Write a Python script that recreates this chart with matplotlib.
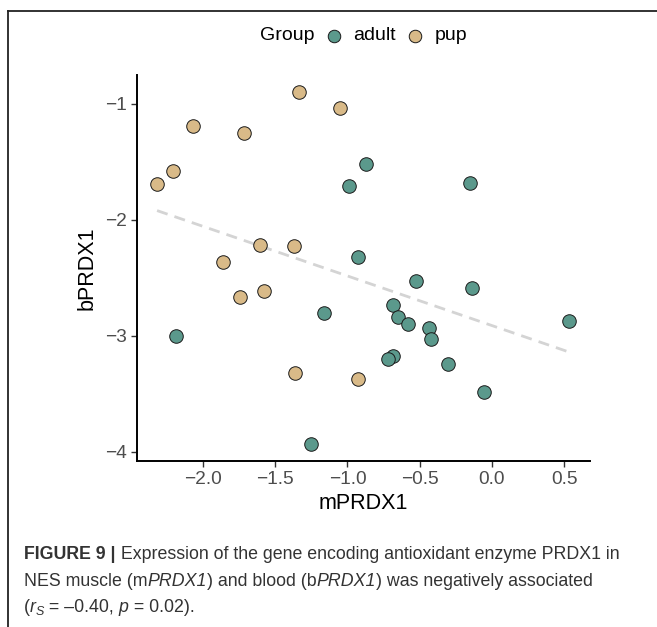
import numpy as np
import matplotlib
matplotlib.use("Agg")
import matplotlib.pyplot as plt
from matplotlib.lines import Line2D

plt.rcParams['font.family'] = ['Liberation Sans', 'DejaVu Sans']

# ---- data ----
adult_m = [-0.990, -0.870, -0.150, -0.930, -0.524, -0.136, -1.165, -0.681, -0.653,
           -0.579, -0.434, -0.418, 0.537, -0.685, -0.722, -0.300, -0.051, -1.251, -2.185]
adult_b = [-1.707, -1.517, -1.681, -2.316, -2.529, -2.586, -2.802, -2.730, -2.839,
           -2.894, -2.928, -3.023, -2.874, -3.175, -3.195, -3.241, -3.480, -3.931, -3.000]
pup_m = [-2.318, -2.208, -2.069, -1.714, -1.338, -1.048, -1.606, -1.370, -1.860,
         -1.744, -1.578, -1.363, -0.930]
pup_b = [-1.692, -1.580, -1.190, -1.250, -0.897, -1.037, -2.218, -2.221, -2.365,
         -2.667, -2.612, -3.319, -3.371]
groups = ["adult", "pup"]
x_ticks = [-2.0, -1.5, -1.0, -0.5, 0.0, 0.5]
y_ticks = [-4, -3, -2, -1]

c_adult = "#5b998c"
c_pup = "#d9ba88"

W, H = 657, 627
fig = plt.figure(figsize=(W / 100, H / 100), dpi=100)

ax = fig.add_axes([137 / W, 1 - 461 / H, (590 - 137) / W, (461 - 75) / H])

all_m = np.array(adult_m + pup_m)
all_b = np.array(adult_b + pup_b)
k, b0 = np.polyfit(all_m, all_b, 1)
xs = np.array([all_m.min(), all_m.max()])
ax.plot(xs, k * xs + b0, color="#d4d4d4", lw=2.0, dashes=(4, 2.6), zorder=1)

ax.scatter(adult_m, adult_b, s=95, facecolor=c_adult, edgecolor="#1a1a1a", linewidth=0.7, zorder=3)
ax.scatter(pup_m, pup_b, s=95, facecolor=c_pup, edgecolor="#1a1a1a", linewidth=0.7, zorder=3)

ax.set_xlim(-2.457, 0.680)
ax.set_ylim(-4.078, -0.75)
ax.set_xticks(x_ticks)
ax.set_xticklabels([f"{v:.1f}".replace("-", "\u2212") for v in x_ticks])
ax.set_yticks(y_ticks)
ax.set_yticklabels([str(v).replace("-", "\u2212") for v in y_ticks])
for s in ["top", "right"]:
    ax.spines[s].set_visible(False)
for s in ["left", "bottom"]:
    ax.spines[s].set_linewidth(1.4)
    ax.spines[s].set_color("black")
ax.tick_params(axis="both", length=4, width=1.0, color="#333333", labelcolor="#4d4d4d",
               labelsize=13.8, pad=3)
ax.set_xlabel("mPRDX1", fontsize=15.5, color="black", labelpad=4)
ax.set_ylabel("bPRDX1", fontsize=15.5, color="black", labelpad=6)

# legend (title inline, horizontal)
renderer = fig.canvas.get_renderer()
leg_y = 1 - 36 / H
fig.text(260 / W, leg_y, "Group", fontsize=14, color="black", va="center", ha="left")
leg_items = [(334, 353, c_adult, groups[0]), (415, 435, c_pup, groups[1])]
for mx, tx, col, lab in leg_items:
    fig.add_artist(Line2D([mx / W], [leg_y], transform=fig.transFigure, ls="none", marker="o",
                          ms=9, mfc=col, mec="#1a1a1a", mew=0.7))
    fig.text(tx / W, leg_y, lab, fontsize=14, color="black", va="center", ha="left")

# frame lines
fig.add_artist(Line2D([8 / W, 8 / W], [0, 1 - 11 / H], transform=fig.transFigure, color="#222222", lw=1.3))
fig.add_artist(Line2D([8 / W, 1], [1 - 11 / H, 1 - 11 / H], transform=fig.transFigure, color="#222222", lw=1.3))

# caption with mixed styles
cap_fs = 12.8
cap_col = "#333333"


def draw_line(segments, x0, y0):
    x = x0
    for seg in segments:
        txt, kw = seg
        kw = dict(kw)
        fs = kw.pop("fs", cap_fs)
        dy = kw.pop("dy", 0)
        t = fig.text(x / W, 1 - (y0 + dy) / H, txt, fontsize=fs, color=cap_col,
                     va="baseline", ha="left", **kw)
        bb = t.get_window_extent(renderer=renderer)
        x += bb.width


draw_line([("FIGURE 9 |", {"weight": "bold"}),
           (" Expression of the gene encoding antioxidant enzyme PRDX1 in", {})], 24, 559)
draw_line([("NES muscle (m", {}), ("PRDX1", {"style": "italic"}), (") and blood (b", {}),
           ("PRDX1", {"style": "italic"}), (") was negatively associated", {})], 24, 586)
draw_line([("(", {}), ("r", {"style": "italic"}), ("S", {"style": "italic", "fs": 9, "dy": 3}),
           (" = \u20130.40, ", {}), ("p", {"style": "italic"}), (" = 0.02).", {})], 24, 612)

fig.savefig("out.png", dpi=100)
